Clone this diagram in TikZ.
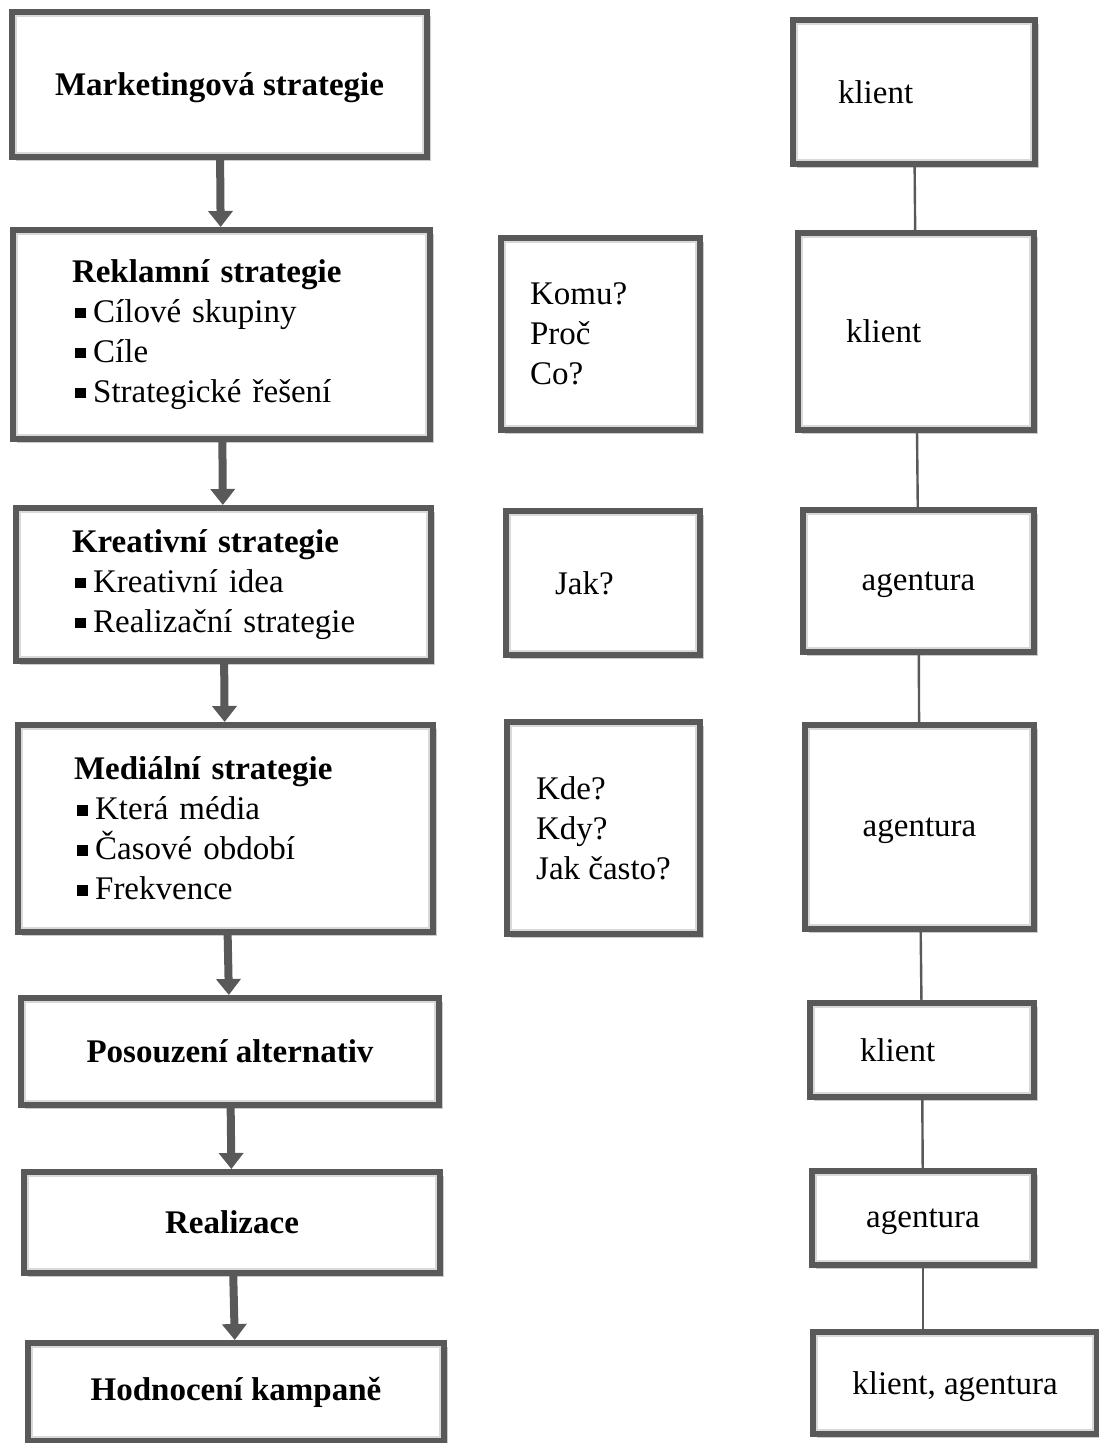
\documentclass[tikz,border=0pt]{standalone}
\usepackage{fontspec}
\setmainfont{Liberation Serif}
\usetikzlibrary{arrows.meta,shadows}
\definecolor{boxgray}{RGB}{89,89,89}
\newcommand{\bul}{\hspace{1.5pt}\rule[.12em]{.33em}{.33em}\hspace{.22em}}

\begin{document}
\begin{tikzpicture}[x=0.5pt, y=-0.5pt,
		box/.style={rectangle, draw=boxgray, line width=3pt, fill=white, inner sep=4pt,
			font=\fontsize{16.5}{20}\selectfont,
			drop shadow={shadow xshift=2pt, shadow yshift=-2pt, fill=black, opacity=.2},
			path picture={\draw[black!15, line width=1pt] ([shift={(2pt,2pt)}]path picture bounding box.south west) rectangle ([shift={(-2pt,-2pt)}]path picture bounding box.north east);}},
		head/.style={font=\fontsize{16.5}{20}\selectfont\bfseries},
		flat/.style={text depth=0pt},
		flow/.style={draw=boxgray, line width=4pt, -{Triangle[width=12pt, length=8pt]}},
		link/.style={draw=boxgray, line width=1.2pt}]
	\useasboundingbox (0,0) rectangle (1098,1443);

	\node[box, head, flat, minimum width=207.5pt, minimum height=72.5pt] (mkt) at (219.5,84.5) {Marketingová strategie};
	\node[box, minimum width=208.5pt, minimum height=104.5pt, text width=149.5pt, align=left] (rekl) at (221.5,334.5) {\textbf{Reklamní strategie}\\ \bul Cílové skupiny\\ \bul Cíle\\ \bul Strategické řešení};
	\node[box, minimum width=207.5pt, minimum height=76.5pt, text width=151.5pt, align=left] (kreat) at (223.5,584.5) {\textbf{Kreativní strategie}\\ \bul Kreativní idea\\ \bul Realizační strategie};
	\node[box, minimum width=207.5pt, minimum height=103.5pt, text width=151.5pt, align=left] (medial) at (225.5,828.5) {\textbf{Mediální strategie}\\ \bul Která média\\ \bul Časové období\\ \bul Frekvence};
	\node[box, head, minimum width=209pt, minimum height=53.5pt] (posouz) at (230,1051.5) {Posouzení alternativ};
	\node[box, head, minimum width=208pt, minimum height=50.5pt] (real) at (232,1222.5) {Realizace};
	\node[box, head, minimum width=208pt, minimum height=49pt] (hodn) at (236,1392) {Hodnocení kampaně};

	\node[box, minimum width=99.5pt, minimum height=96pt, text width=70.5pt, align=left] (komu) at (600.5,334) {Komu?\\ Proč\\ Co?};
	\node[box, minimum width=97pt, minimum height=72pt, text width=48pt, align=left] (jak) at (603,583) {Jak?};
	\node[box, minimum width=96.5pt, minimum height=106pt, align=left] (kde) at (603.5,828) {Kde?\\ Kdy?\\ Jak často?};

	\node[box, flat, minimum width=121pt, minimum height=72pt, text width=76pt, align=left] (kl1) at (914,92) {klient};
	\node[box, flat, minimum width=118pt, minimum height=98.5pt, text width=70pt, align=left] (kl2) at (916,331.5) {klient};
	\node[box, flat, minimum width=115.5pt, minimum height=71pt] (ag1) at (918.5,581) {agentura};
	\node[box, flat, minimum width=114.5pt, minimum height=102pt] (ag2) at (919.5,827) {agentura};
	\node[box, flat, minimum width=112pt, minimum height=47pt, text width=62pt, align=left] (kl3) at (922,1050) {klient};
	\node[box, flat, minimum width=111pt, minimum height=47pt] (ag3) at (923,1218) {agentura};
	\node[box, flat, minimum width=142pt, minimum height=51pt] (klag) at (955,1383) {klient, agentura};

	\draw[flow] (mkt) -- (rekl);
	\draw[flow] (rekl) -- (kreat);
	\draw[flow] (kreat) -- (medial);
	\draw[flow] (medial) -- (posouz);
	\draw[flow] (posouz) -- (real);
	\draw[flow] (real) -- (hodn);

	\draw[link] (kl1) -- (kl2);
	\draw[link] (kl2) -- (ag1);
	\draw[link] (ag1) -- (ag2);
	\draw[link] (ag2) -- (kl3);
	\draw[link] (kl3) -- (ag3);
	\draw[link] (ag3) -- (ag3 |- klag.north);
\end{tikzpicture}
\end{document}
